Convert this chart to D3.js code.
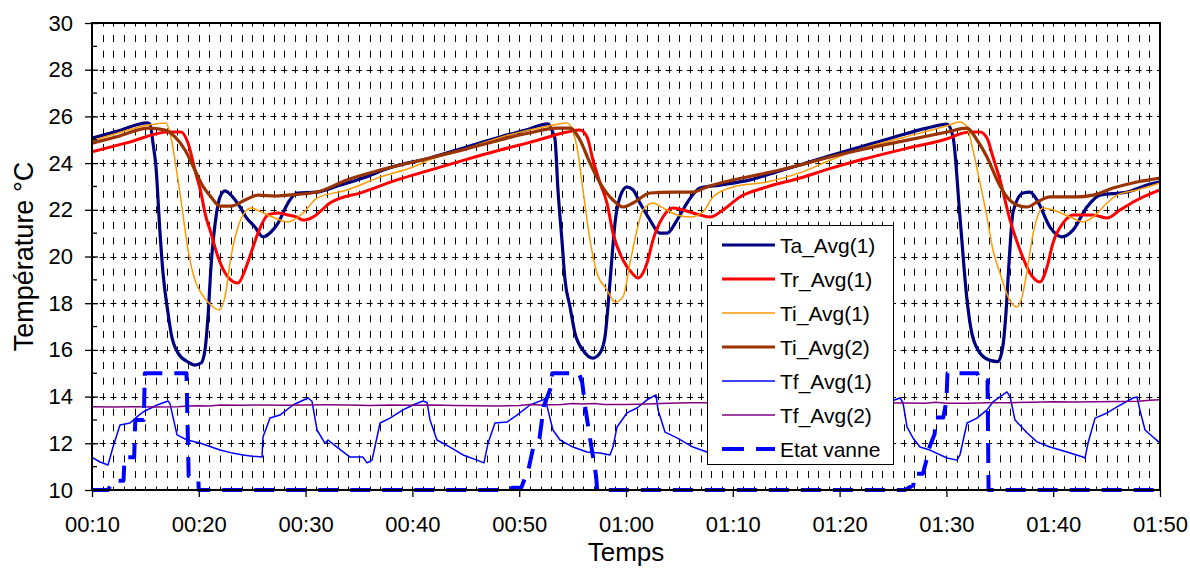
<!DOCTYPE html>
<html><head><meta charset="utf-8">
<script src="https://cdn.jsdelivr.net/npm/d3@7"></script>
<style>html,body{margin:0;padding:0;background:#fff;}svg{display:block;font-family:"Liberation Sans",Arial,sans-serif;}</style>
</head><body><svg id="chart" width="1190" height="569"></svg>
<script>
// ---- data (time in minutes after 00:00, temperature in °C) ----
const xTickValues = [10,20,30,40,50,60,70,80,90,100,110];
const xTickLabels = ["00:10","00:20","00:30","00:40","00:50","01:00","01:10","01:20","01:30","01:40","01:50"];
const yTickValues = [10,12,14,16,18,20,22,24,26,28,30];
const seriesNames = ["Ta_Avg(1)","Tr_Avg(1)","Ti_Avg(1)","Ti_Avg(2)","Tf_Avg(1)","Tf_Avg(2)","Etat vanne"];

const taAvg1 = [[10,25.07],[12.5,25.38],[15.15,25.72],[15.43,25.67],[15.71,24.86],[15.99,23.83],[16.37,21.0],[16.65,19.29],[17.12,17.58],[17.4,16.72],[18.05,15.87],[18.99,15.48],[19.64,15.35],[20.21,15.44],[20.58,16.0],[20.86,17.41],[21.14,19.55],[21.61,21.69],[21.99,22.55],[22.45,22.81],[23.01,22.63],[23.86,22.12],[24.42,21.69],[25.26,21.26],[26.01,20.84],[26.76,21.05],[27.42,21.43],[28.35,22.29],[29.19,22.72],[31.07,22.76],[33.2,23.05],[35.37,23.36],[37.9,23.8],[41.65,24.22],[45,24.68],[48.2,25.12],[50.5,25.4],[52.7,25.68],[53.16,25.3],[53.35,25.03],[53.63,22.85],[54.0,20.71],[54.29,19.0],[54.76,17.84],[55.22,16.72],[55.97,15.99],[56.91,15.65],[57.57,15.87],[58.03,16.55],[58.31,17.84],[58.69,19.98],[58.97,21.43],[59.44,22.55],[60.09,22.98],[60.66,22.85],[61.31,22.29],[62.25,21.56],[63.18,21.0],[63.84,21.0],[64.78,21.56],[65.71,22.29],[66.93,22.93],[68.8,23.06],[71.61,23.28],[74.7,23.71],[76.29,23.92],[79,24.3],[81.91,24.69],[85,25.1],[88.18,25.5],[90.06,25.67],[90.62,25.12],[91.27,21.69],[91.93,18.14],[92.3,16.9],[92.95,16.0],[94.08,15.55],[94.83,15.5],[95.3,16.2],[95.58,17.6],[95.86,19.7],[96.24,21.9],[97.17,22.72],[97.83,22.76],[98.48,22.42],[99.7,21.26],[100.82,20.84],[101.85,21.13],[103.16,22.12],[104.38,22.63],[106.91,22.76],[108.78,23.06],[110,23.2]];

const trAvg1 = [[10,24.48],[13.5,24.9],[17.12,25.33],[18.33,25.33],[18.99,24.86],[19.64,23.7],[20.21,22.72],[20.58,21.86],[21.14,21.0],[21.8,19.98],[22.73,19.12],[23.67,18.86],[24.33,19.42],[24.89,20.15],[25.54,21.0],[26.48,21.78],[27.42,21.86],[28.35,21.78],[29.19,21.69],[29.76,21.56],[30.69,21.69],[32.28,22.29],[35.37,22.76],[38.56,23.28],[41.65,23.7],[45,24.15],[48.2,24.56],[51.5,24.95],[54.48,25.33],[55.69,25.42],[56.35,25.12],[56.91,24.13],[57.57,23.15],[58.22,22.29],[58.78,21.0],[59.72,19.85],[60.56,19.29],[61.12,19.08],[61.97,19.72],[62.53,20.71],[63.46,21.69],[64.4,22.08],[65.34,21.99],[66.93,21.78],[67.87,21.69],[69.08,21.99],[70.67,22.55],[73.2,22.98],[76.29,23.36],[79,23.75],[81.91,24.13],[86,24.6],[89.68,24.99],[92.21,25.33],[93.15,25.33],[93.8,25.07],[94.36,24.26],[95.02,23.28],[95.96,21.56],[96.89,20.28],[97.83,19.29],[98.76,18.91],[99.42,19.55],[99.98,20.58],[100.92,21.43],[101.85,21.78],[103.73,21.78],[105.04,21.65],[106.25,21.99],[107.85,22.42],[110,22.85]];

const tiAvg1 = [[10,24.95],[12.5,25.3],[15.24,25.63],[16.93,25.72],[17.3,25.29],[17.87,23.83],[18.33,22.42],[18.99,20.28],[19.64,18.99],[20.21,18.44],[21.14,17.92],[21.89,17.71],[22.45,18.27],[23.01,19.98],[23.67,21.26],[24.33,21.91],[24.89,22.08],[25.82,21.91],[27.13,21.65],[28.35,21.48],[29.76,21.86],[31.07,22.5],[33.88,22.85],[36.97,23.4],[40.06,23.83],[41.65,24.15],[45,24.62],[48.2,25.1],[52.88,25.6],[54.48,25.72],[55.41,24.69],[55.97,22.85],[56.63,20.71],[57.28,19.29],[58.22,18.57],[58.97,18.05],[59.72,18.27],[60.37,19.72],[61.03,21.13],[61.59,21.99],[62.53,22.29],[63.46,22.08],[64.78,21.78],[66.0,21.69],[67.21,21.91],[68.15,22.55],[70.02,22.98],[73.2,23.19],[76.29,23.58],[79,24.1],[81.91,24.6],[86,25.1],[90.06,25.6],[91.27,25.76],[91.93,25.55],[92.49,24.56],[93.15,23.15],[93.8,21.69],[94.36,20.28],[95.02,19.29],[95.96,18.1],[96.61,17.84],[97.1,18.3],[97.57,19.42],[98.13,21.0],[99.06,22.08],[100.0,21.99],[101.59,21.69],[102.81,21.48],[103.73,21.69],[105.04,22.29],[105.98,22.63],[107.85,22.85],[110,23.15]];

const tiAvg2 = [[10,24.85],[12.5,25.15],[15.24,25.5],[16.84,25.42],[17.77,25.12],[18.71,24.56],[19.64,23.7],[20.21,23.15],[21.14,22.55],[21.99,22.16],[23.01,22.16],[24.33,22.42],[25.54,22.63],[27.13,22.59],[28.35,22.63],[31.07,22.76],[33.88,23.28],[36.97,23.7],[41.65,24.22],[45,24.6],[48.2,24.99],[51,25.3],[53.54,25.5],[54.76,25.5],[55.69,24.99],[56.63,24.0],[57.57,23.15],[58.78,22.42],[59.72,22.12],[60.66,22.29],[62.25,22.72],[64.4,22.76],[66.27,22.76],[67.58,22.98],[70.02,23.28],[73.2,23.58],[76.29,23.92],[79,24.25],[81.91,24.56],[86,24.95],[90.06,25.33],[91.93,25.5],[92.87,24.99],[93.8,24.26],[94.74,23.28],[95.67,22.55],[96.61,22.21],[97.57,22.12],[98.48,22.33],[99.7,22.55],[102.23,22.55],[103.73,22.63],[105.6,22.93],[107.85,23.19],[110,23.36]];

const tfAvg1 = [[10,11.4],[10.75,11.2],[11.5,11.07],[11.97,11.84],[12.62,12.78],[13.56,12.87],[14.21,13.13],[14.78,13.34],[16.09,13.64],[17.12,13.81],[17.3,13.7],[17.96,12.36],[18.9,12.14],[20.11,12.01],[21.99,11.71],[23.0,11.6],[24.14,11.5],[25.0,11.45],[25.92,11.41],[26.01,12.27],[26.67,13.08],[27.6,13.21],[28.82,13.64],[30.22,13.94],[30.6,13.8],[31.07,12.57],[31.82,12.0],[32.1,12.14],[32.94,11.84],[34.16,11.41],[35.37,11.41],[35.75,11.16],[36.22,11.28],[36.69,12.27],[36.97,12.87],[37.9,13.08],[39.12,13.43],[40.06,13.64],[40.99,13.81],[41.37,13.75],[41.65,13.0],[42.3,12.14],[43.52,11.84],[44.74,11.5],[46.05,11.28],[46.7,11.16],[47.08,12.0],[47.73,12.87],[48.86,12.91],[49.79,13.21],[51.01,13.64],[52.23,13.86],[52.51,13.94],[52.6,13.6],[53.16,12.57],[53.82,12.14],[55.04,11.84],[56.35,11.63],[57.57,11.58],[58.5,11.5],[58.78,11.84],[59.16,12.7],[60.09,13.3],[61.03,13.51],[61.97,13.86],[62.81,14.07],[63.0,13.43],[63.65,12.48],[64.78,12.23],[66.27,11.84],[67.58,11.63],[69.5,11.5],[71.5,11.35],[72.6,11.25],[73.0,12.1],[73.6,12.85],[75.0,13.1],[77.0,13.5],[78.6,13.95],[79.0,13.2],[80.0,12.3],[82.0,11.8],[83.0,11.4],[83.3,12.6],[84.0,13.3],[84.4,13.73],[85.66,13.94],[85.94,13.73],[86.31,12.7],[86.87,12.23],[87.53,11.84],[88.46,11.71],[90.06,11.37],[90.99,11.28],[91.27,11.5],[91.93,12.87],[92.87,13.08],[93.8,13.43],[94.36,13.77],[95.67,14.2],[95.96,14.0],[96.42,13.0],[97.57,12.44],[98.48,12.06],[99.7,11.84],[101.29,11.63],[102.79,11.41],[102.98,11.37],[103.26,12.01],[103.92,13.08],[105.04,13.3],[105.98,13.56],[107.47,13.94],[107.85,13.98],[108.13,13.4],[108.6,12.57],[109.35,12.27],[110,12.01]];

const tfAvg2 = [[10,13.56],[12,13.55],[14,13.56],[16,13.55],[18,13.57],[19,13.6],[20,13.61],[21,13.6],[22,13.64],[24,13.63],[26,13.64],[28,13.63],[30,13.64],[32,13.65],[34,13.64],[36,13.62],[38,13.64],[40,13.63],[42,13.64],[44,13.62],[46,13.61],[48,13.6],[50,13.62],[51,13.66],[52,13.64],[54,13.66],[55,13.7],[56,13.68],[57,13.7],[58,13.66],[60,13.66],[62,13.68],[64,13.72],[66,13.74],[68,13.74],[70,13.74],[75,13.74],[80,13.73],[86,13.73],[88,13.72],[89,13.76],[90,13.72],[92,13.72],[94,13.74],[96,13.74],[98,13.76],[100,13.78],[102,13.77],[104,13.78],[106,13.79],[108,13.8],[109,13.84],[110,13.86]];

const etatVanne = [[10,10],[11.5,10],[12.0,10.4],[12.95,10.4],[13.05,11.4],[13.95,11.4],[14.05,13.0],[14.85,13.0],[14.95,15],[18.85,15],[19.05,10.6],[19.95,10.5],[20.0,10],[48.5,10],[49.4,10.1],[50.2,10.1],[50.9,10.95],[51.3,11.8],[51.9,12.2],[52.1,12.9],[52.3,13.6],[52.9,14.3],[53.1,15],[55.6,15],[55.9,14.6],[56.2,13.5],[56.6,12.3],[57.2,10.6],[57.3,10],[86.1,10],[86.9,10.2],[87.0,10.7],[87.8,10.7],[88.2,11.4],[88.3,11.7],[88.9,12.4],[89.0,13.1],[89.7,13.1],[90.0,13.8],[90.1,15],[92.9,15],[93.1,14.7],[93.85,14.7],[93.95,10],[110,10]];

// ---- layout ----
const svg = d3.select("#chart");
const L = 92, R = 1160, T = 23, B = 490;
const x = d3.scaleLinear().domain([10,110]).range([L,R]);
const y = d3.scaleLinear().domain([10,30]).range([B,T]);
const font = '"Liberation Sans", Arial, sans-serif';

// grid: vertical dashed lines every minute
const vPeriod = (y(28)-y(30))/3;
const vGrid = d3.range(11,110,1);
svg.append("g").selectAll("line").data(vGrid).join("line")
  .attr("x1",d=>Math.round(x(d))+0.5).attr("x2",d=>Math.round(x(d))+0.5).attr("y1",T).attr("y2",B)
  .attr("stroke","#000").attr("stroke-width",1)
  .attr("stroke-dasharray",`7,${(vPeriod-7).toFixed(2)}`).attr("stroke-dashoffset",3.5);
// horizontal dashed at major values
const hPeriod = x(11)-x(10);
svg.append("g").selectAll("line").data(yTickValues.filter(v=>v>10&&v<30)).join("line")
  .attr("x1",L).attr("x2",R).attr("y1",d=>Math.round(y(d))+0.5).attr("y2",d=>Math.round(y(d))+0.5)
  .attr("stroke","#000").attr("stroke-width",1)
  .attr("stroke-dasharray",`6,${(hPeriod-6).toFixed(2)}`).attr("stroke-dashoffset",3);

// clip
svg.append("defs").append("clipPath").attr("id","clip").append("rect")
  .attr("x",L).attr("y",T-2).attr("width",R-L).attr("height",B-T+4);

const series = [
  {name:seriesNames[0], data:taAvg1, color:"#000080", w:3.2, curve:d3.curveMonotoneX},
  {name:seriesNames[1], data:trAvg1, color:"#FF0000", w:3, curve:d3.curveMonotoneX},
  {name:seriesNames[2], data:tiAvg1, color:"#FF9900", w:1.5, curve:d3.curveMonotoneX},
  {name:seriesNames[3], data:tiAvg2, color:"#993300", w:3.2, curve:d3.curveMonotoneX},
  {name:seriesNames[4], data:tfAvg1, color:"#0000FF", w:1.5, curve:d3.curveLinear},
  {name:seriesNames[5], data:tfAvg2, color:"#800080", w:1.5, curve:d3.curveLinear},
  {name:seriesNames[6], data:etatVanne, color:"#0000FF", w:4, curve:d3.curveLinear, dash:"20,12"}
];

const gLines = svg.append("g").attr("clip-path","url(#clip)");
series.forEach(s=>{
  const line = d3.line().x(d=>x(d[0])).y(d=>y(d[1])).curve(s.curve);
  gLines.append("path").datum(s.data).attr("d",line)
    .attr("fill","none").attr("stroke",s.color).attr("stroke-width",s.w)
    .attr("stroke-linejoin","round")
    .attr("stroke-dasharray",s.dash||null);
});

// frame
svg.append("rect").attr("x",L).attr("y",T).attr("width",R-L).attr("height",B-T)
  .attr("fill","none").attr("stroke","#000").attr("stroke-width",1.5).attr("shape-rendering","crispEdges");

// axes
const xAxis = d3.axisBottom(x).tickValues(xTickValues).tickFormat((d,i)=>xTickLabels[i]).tickSize(7).tickPadding(19);
const gx = svg.append("g").attr("transform",`translate(0,${B})`).call(xAxis);
gx.select(".domain").remove();
gx.selectAll("line").attr("stroke","#000").attr("stroke-width",1.3);
gx.selectAll("text").attr("font-family",font).attr("font-size",22).attr("fill","#000");

const yAxis = d3.axisLeft(y).tickValues(yTickValues).tickSize(7).tickPadding(12);
const gy = svg.append("g").attr("transform",`translate(${L},0)`).call(yAxis);
gy.select(".domain").remove();
gy.selectAll("line").attr("stroke","#000").attr("stroke-width",1.3).attr("x2",-7).attr("x1",6);
gy.selectAll("text").attr("font-family",font).attr("font-size",22).attr("fill","#000");
// minor inward ticks
svg.append("g").selectAll("line").data(d3.range(11,30,2)).join("line")
  .attr("x1",L).attr("x2",L+5).attr("y1",d=>y(d)).attr("y2",d=>y(d))
  .attr("stroke","#000").attr("stroke-width",1.3);

// axis titles
svg.append("text").attr("x",(L+R)/2).attr("y",561).attr("text-anchor","middle")
  .attr("font-family",font).attr("font-size",26).text("Temps");
svg.append("text").attr("transform",`translate(33,${(T+B)/2}) rotate(-90)`).attr("text-anchor","middle")
  .attr("font-family",font).attr("font-size",27).text("Température °C");

// legend
const lg = svg.append("g");
lg.append("rect").attr("x",707.5).attr("y",225.5).attr("width",186).attr("height",239)
  .attr("fill","#fff").attr("stroke","#000").attr("stroke-width",1);
series.forEach((s,i)=>{
  const cy = 245 + i*34;
  lg.append("line").attr("x1",722).attr("x2",775).attr("y1",cy).attr("y2",cy)
    .attr("stroke",s.color).attr("stroke-width",s.w).attr("stroke-dasharray",s.dash?"22,12":null);
  lg.append("text").attr("x",780).attr("y",cy+7.5).attr("font-family",font).attr("font-size",21).text(s.name);
});
</script></body></html>
